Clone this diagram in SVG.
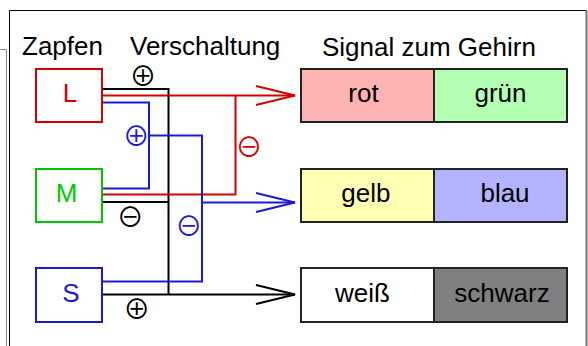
<svg xmlns="http://www.w3.org/2000/svg" width="588" height="346" viewBox="0 0 588 346">
<style>
text{font-family:"Liberation Sans",Arial,sans-serif;}
.t{font-size:26px;fill:#000;}
.lbl{font-size:26px;text-anchor:middle;fill:#000;}
.sym{font-family:"Noto Sans CJK JP","DejaVu Sans",sans-serif;font-size:27px;text-anchor:middle;}
.w{fill:none;stroke-width:2;}
.sb{stroke:#222;stroke-width:2;}
</style>
<rect width="588" height="346" fill="#fff"/>
<g id="frame" fill="none">
<path d="M0,49.5 H6.5 V346" stroke="#888" stroke-width="1"/>
<path d="M9.5,346 V10.5 H586" stroke="#000" stroke-width="1"/>
<path d="M586.5,10 V346" stroke="#777" stroke-width="2"/>
</g>
<g id="titles">
<text class="t" x="22" y="55">Zapfen</text>
<text class="t" x="130" y="55">Verschaltung</text>
<text class="t" x="322" y="56">Signal zum Gehirn</text>
</g>
<g id="connectors" class="w">
<path d="M102,89 H168.5 V294.5" stroke="#000"/>
<path d="M102,202 H168.5" stroke="#000"/>
<path d="M102,294.5 H295" stroke="#000"/>
<path d="M256,285 L295,294.5 L256,304" stroke="#000"/>
<path d="M102,95.5 H295" stroke="#d40000"/>
<path d="M235.5,95.5 V194.5 H102" stroke="#d40000"/>
<path d="M256,86 L295,95.5 L256,105" stroke="#d40000"/>
<path d="M102,102.5 H149 V188.5 H102" stroke="#1a1ad6"/>
<path d="M149,135.5 H202 V281.5 H102" stroke="#1a1ad6"/>
<path d="M202,202.5 H295" stroke="#1a1ad6"/>
<path d="M256,193 L295,202.5 L256,212" stroke="#1a1ad6"/>
<text class="sym" x="143" y="86" fill="#000" stroke="none">⊕</text>
<text class="sym" x="136.3" y="145.8" fill="#1a1ad6" stroke="none">⊕</text>
<text class="sym" x="249" y="156.5" fill="#d40000" stroke="none">⊖</text>
<text class="sym" x="130.3" y="226.8" fill="#000" stroke="none">⊖</text>
<text class="sym" x="188.7" y="235.8" fill="#1a1ad6" stroke="none">⊖</text>
<text class="sym" x="136.7" y="318.5" fill="#000" stroke="none">⊕</text>
</g>
<g id="L"><rect x="36" y="69" width="66" height="53" fill="#fff" stroke="#d40000" stroke-width="2"/><text class="lbl" x="70" y="102" style="fill:#d40000">L</text></g>
<g id="M"><rect x="36" y="169" width="66" height="53" fill="#fff" stroke="#00c800" stroke-width="2"/><text class="lbl" x="66.5" y="202" style="fill:#00c800">M</text></g>
<g id="S"><rect x="36" y="268" width="66" height="54" fill="#fff" stroke="#1a1ad6" stroke-width="2"/><text class="lbl" x="71" y="302" style="fill:#1a1ad6">S</text></g>
<g id="rot"><rect x="301" y="69" width="133" height="53" fill="#ffb3b3" class="sb"/><text class="lbl" x="363.5" y="102">rot</text></g>
<g id="gruen"><rect x="434" y="69" width="133" height="53" fill="#b3ffb3" class="sb"/><text class="lbl" x="500.5" y="102">grün</text></g>
<g id="gelb"><rect x="301" y="169" width="133" height="53" fill="#ffffb3" class="sb"/><text class="lbl" x="365.8" y="202">gelb</text></g>
<g id="blau"><rect x="434" y="169" width="133" height="53" fill="#b3b3ff" class="sb"/><text class="lbl" x="505" y="202">blau</text></g>
<g id="weiss"><rect x="301" y="268" width="133" height="54" fill="#fff" class="sb"/><text class="lbl" x="362.5" y="302">weiß</text></g>
<g id="schwarz"><rect x="434" y="268" width="133" height="54" fill="#808080" class="sb"/><text class="lbl" x="502" y="302">schwarz</text></g>
</svg>
